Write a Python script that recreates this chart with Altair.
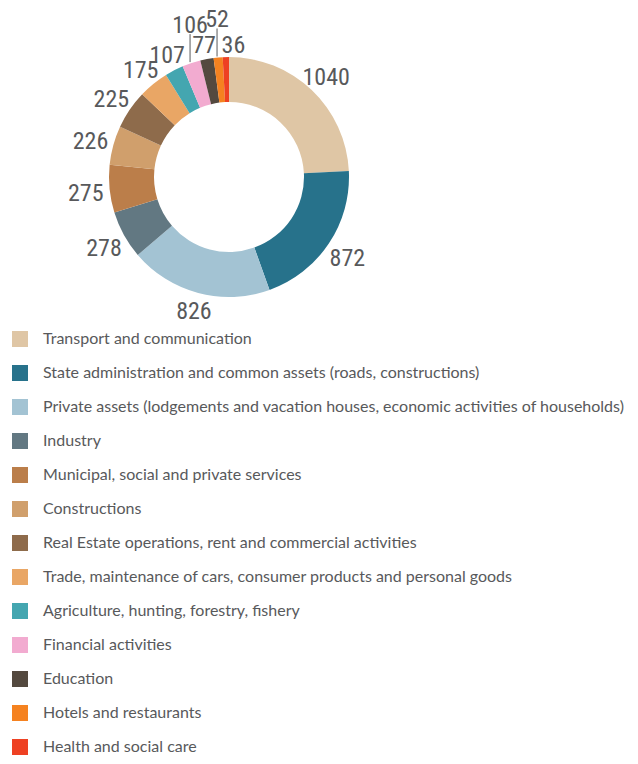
import math
import altair as alt
import pandas as pd

categories = [
    "Transport and communication",
    "State administration and common assets (roads, constructions)",
    "Private assets (lodgements and vacation houses, economic activities of households)",
    "Industry",
    "Municipal, social and private services",
    "Constructions",
    "Real Estate operations, rent and commercial activities",
    "Trade, maintenance of cars, consumer products and personal goods",
    "Agriculture, hunting, forestry, fishery",
    "Financial activities",
    "Education",
    "Hotels and restaurants",
    "Health and social care",
]
values = [1040, 872, 826, 278, 275, 226, 225, 175, 107, 106, 77, 52, 36]
colors = [
    "#dfc6a5", "#27728b", "#a3c3d3", "#627882", "#bb7e4a", "#d09f6c", "#8e6b4b",
    "#e9a665", "#44a6b0", "#f2abd0", "#54493f", "#f58220", "#ee4123",
]

PAD_TOP = 8
W, H = 442, 322
CX, CY = W / 2, H / 2
R_OUT, R_IN = 120, 75
NUM_FONT = "Liberation Sans Narrow, Roboto Condensed, Roboto"
MIN_SEP_DEG = 12.5

total = sum(values)
rows = []
acc = 0
small_rank = 0
prev_deg = None
for i, (c, v) in enumerate(zip(categories, values)):
    start, end = acc, acc + v
    acc = end
    mid = (start + end) / 2
    leader = False
    if v < 150:
        leader = small_rank % 2 == 1
        small_rank += 1
    ang = 2 * math.pi * mid / total
    # label angle: mid angle, nudged forward if too close to the previous ring label
    deg = math.degrees(ang)
    if not leader:
        if prev_deg is not None and deg - prev_deg < MIN_SEP_DEG:
            deg = prev_deg + MIN_SEP_DEG
        prev_deg = deg
    la = math.radians(deg)
    lr = 134 + 10 * abs(math.sin(la))
    lx = CX + (R_OUT + 1) * math.sin(ang) - 1
    ly0 = CY - (R_OUT + 1) * math.cos(ang)
    rows.append(dict(cat=c, value=v, start=start, end=end, mid=mid, order=i,
                     label=str(v), leader=leader, lang=la, lr=lr, lx=lx, ly0=ly0,
                     ly1=ly0 - 28, ty=ly0 - 38))
df = pd.DataFrame(rows)

theta_scale = alt.Scale(domain=[0, total], range=[0, 2 * math.pi])
base = alt.Chart(df)

arcs = base.mark_arc(innerRadius=R_IN, outerRadius=R_OUT, strokeWidth=0).encode(
    theta=alt.Theta("start:Q", scale=theta_scale),
    theta2="end:Q",
    color=alt.Color(
        "cat:N",
        scale=alt.Scale(domain=categories, range=colors),
        sort=categories,
        legend=alt.Legend(
            title=None, orient="none", legendX=4, legendY=315,
            direction="vertical",
            symbolType="square", symbolSize=256, symbolStrokeWidth=0,
            labelFont="Lato", labelFontSize=16, labelColor="#58595b",
            labelOffset=15, rowPadding=18, labelLimit=800, padding=0,
        ),
    ),
)

labels = base.transform_filter("!datum.leader").mark_text(
    font=NUM_FONT, fontSize=24, color="#58595b",
    align="center", baseline="middle", dy=3,
).encode(
    theta=alt.Theta("lang:Q", scale=None),
    radius=alt.Radius("lr:Q", scale=None),
    text="label:N",
)

leader_lines = base.transform_filter("datum.leader").mark_rule(
    color="#58595b", strokeWidth=1
).encode(
    x=alt.X("lx:Q", scale=None, axis=None),
    y=alt.Y("ly0:Q", scale=None, axis=None),
    y2="ly1:Q",
)

leader_labels = base.transform_filter("datum.leader").mark_text(
    font=NUM_FONT, fontSize=24, color="#58595b", align="center", baseline="middle",
    dy=2,
).encode(
    x=alt.X("lx:Q", scale=None, axis=None),
    y=alt.Y("ty:Q", scale=None, axis=None),
    text="label:N",
)

chart = alt.layer(arcs, labels, leader_lines, leader_labels).properties(
    width=W, height=H,
    autosize=alt.AutoSizeParams(type="none"),
    padding={"left": 0, "top": PAD_TOP, "right": 622 - W, "bottom": 748 - H - PAD_TOP},
).configure_view(stroke=None)

chart.save("out.html", embed_options={"renderer": "svg", "actions": False})
